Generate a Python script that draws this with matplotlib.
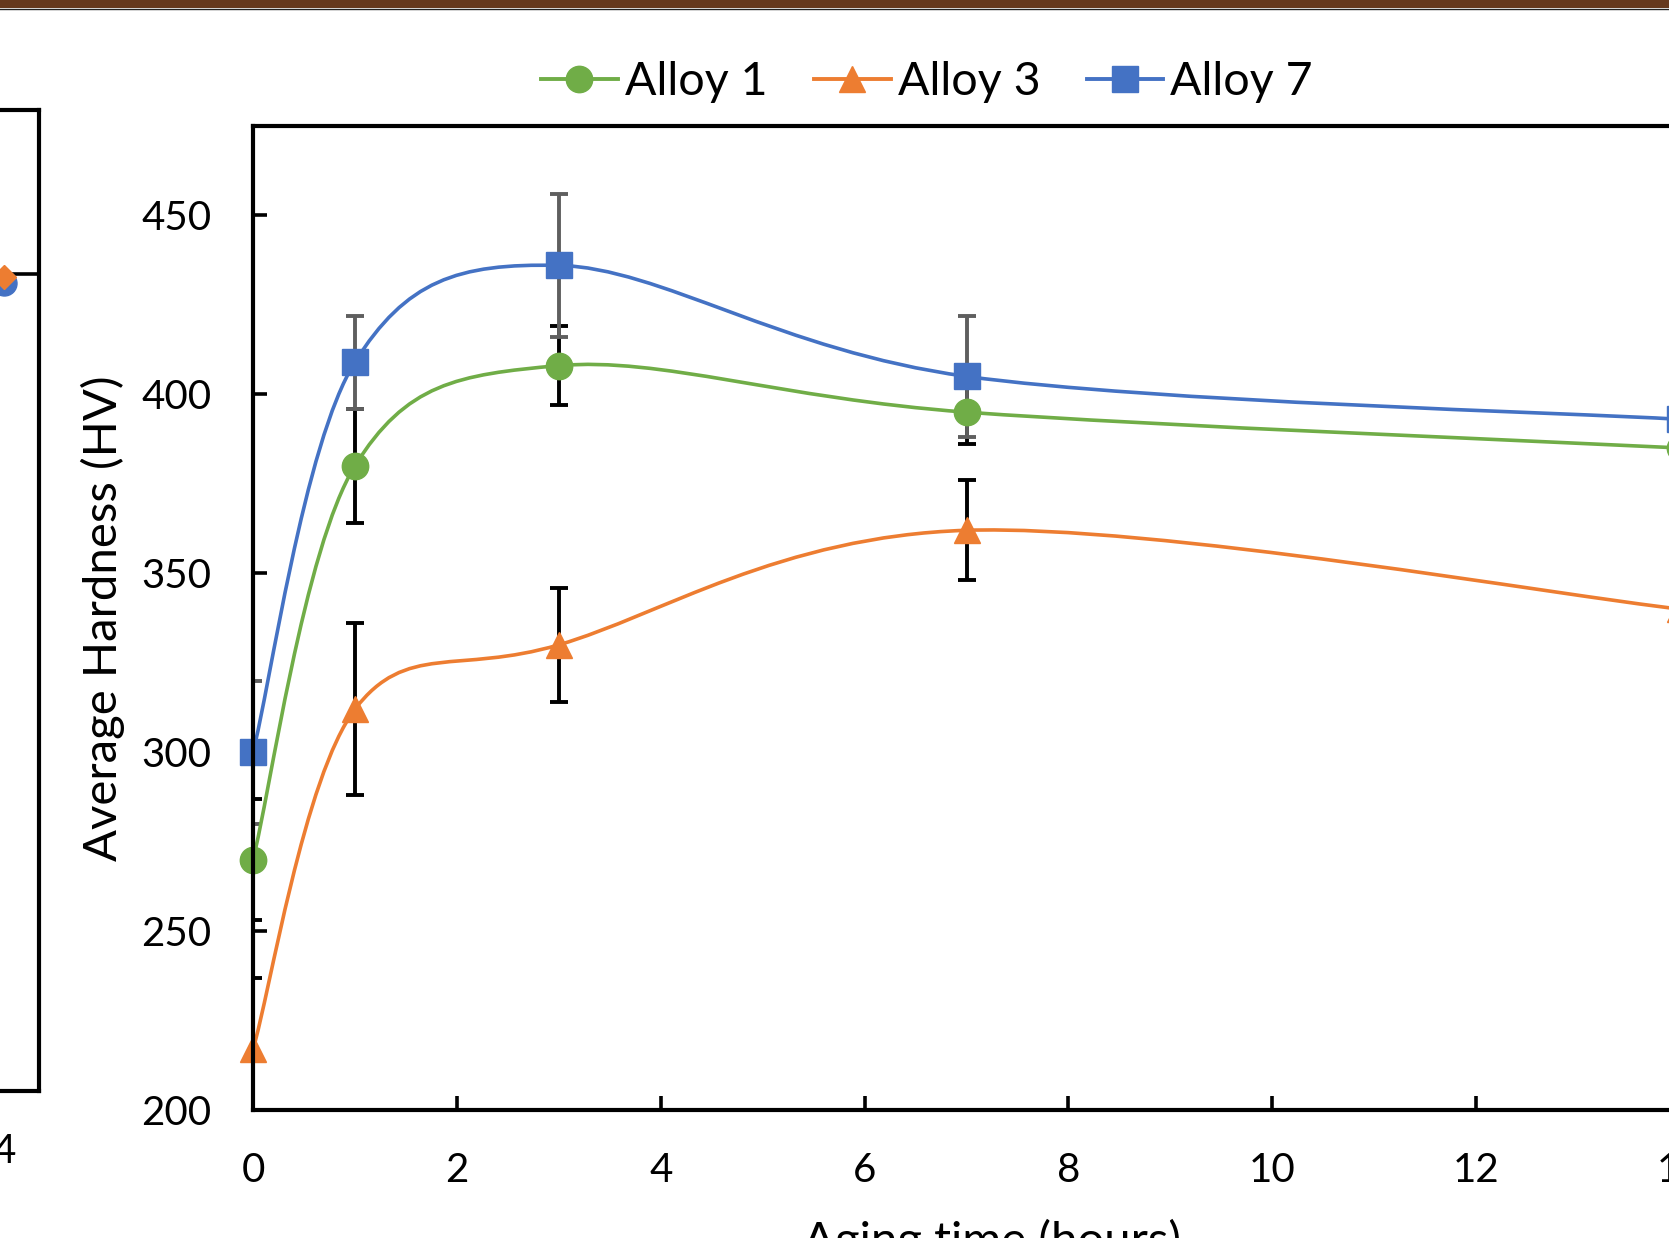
import numpy as np
import matplotlib
matplotlib.use("Agg")
import matplotlib.pyplot as plt
from matplotlib.path import Path
from matplotlib.patches import PathPatch, Rectangle
from matplotlib.lines import Line2D

# aging time (hours)
times = [0, 1, 3, 7, 14]

# average hardness (HV) and error bars
alloy1 = [270, 380, 408, 395, 385]
alloy1_err = [17, 16, 11, 9, 9]
alloy3 = [217, 312, 330, 362, 340]
alloy3_err = [20, 24, 16, 14, 14]
alloy7 = [300, 409, 436, 405, 393]
alloy7_err = [20, 13, 20, 17, 17]

series_names = ["Alloy 1", "Alloy 3", "Alloy 7"]
colors = ["#70AD47", "#ED7D31", "#4472C4"]
markers = ["o", "^", "s"]
err_colors = ["black", "black", "#5f5f5f"]

yticks = [200, 250, 300, 350, 400, 450]
xticks = [0, 2, 4, 6, 8, 10, 12, 14]

W, H = 1669, 1238
plt.rcParams["font.family"] = ["Lato", "DejaVu Sans"]


def smooth_path(x, y):
    """Excel 风格的平滑曲线 (Catmull-Rom -> Bezier)"""
    pts = np.column_stack([x, y]).astype(float)
    n = len(pts)
    verts = [pts[0]]
    codes = [Path.MOVETO]
    for i in range(n - 1):
        p0 = pts[i - 1] if i > 0 else pts[i]
        p1, p2 = pts[i], pts[i + 1]
        p3 = pts[i + 2] if i + 2 < n else pts[i + 1]
        c1 = p1 + (p2 - p0) / 6
        c2 = p2 - (p3 - p1) / 6
        verts += [c1, c2, p2]
        codes += [Path.CURVE4] * 3
    return Path(verts, codes)


fig = plt.figure(figsize=(W / 100, H / 100), dpi=100)

# top brown bar
fig.patches.append(Rectangle((0, 1 - 8 / H), 1, 8 / H, transform=fig.transFigure,
                             facecolor="#65381D", edgecolor="none", zorder=0))
fig.add_artist(Line2D([0, 1], [1 - 9 / H, 1 - 9 / H], color="#222222", lw=1))

# --- left neighbour panel (mostly cropped) ---
axl = fig.add_axes([-400 / W, (H - 1091) / H, 439 / W, 981 / H])
axl.set_xlim(0, 4.35)
axl.set_ylim(200, 500)
axl.plot([4], [447], marker="o", color="#4472C4", ms=18, clip_on=False, ls="none")
axl.plot([4], [449], marker="D", color="#ED7D31", ms=12, clip_on=False, ls="none")
axl.set_xticks([4])
axl.set_yticks([450])
axl.yaxis.tick_right()
axl.tick_params(axis="y", direction="in", length=20, width=2.6, labelright=False)
axl.tick_params(axis="x", length=0, labelsize=29, pad=30)
for s in axl.spines.values():
    s.set_linewidth(3.0)

# --- main panel ---
ax = fig.add_axes([253 / W, 127.8 / H, 1427 / W, 984.4 / H])
for i, (vals, errs) in enumerate([(alloy1, alloy1_err), (alloy3, alloy3_err), (alloy7, alloy7_err)]):
    ax.errorbar(times, vals, yerr=errs, fmt="none", ecolor=err_colors[i],
                elinewidth=2.8, capsize=6.5, capthick=2.8, zorder=2)

for i, vals in enumerate([alloy1, alloy3, alloy7]):
    ax.add_patch(PathPatch(smooth_path(times, vals), facecolor="none",
                           edgecolor=colors[i], lw=2.6, zorder=3))
    ax.plot(times, vals, ls="none", marker=markers[i], ms=19, color=colors[i],
            zorder=4, clip_on=False)

ax.set_xlim(0, 14)
ax.set_ylim(200, 475)
ax.set_xticks(xticks)
ax.set_yticks(yticks)
ax.tick_params(direction="in", length=10, width=2.6, labelsize=29, pad=30)
for s in ax.spines.values():
    s.set_linewidth(3.0)
    s.set_zorder(5)

ax.set_ylabel("Average Hardness (HV)", fontsize=34)
ax.yaxis.set_label_coords(-0.105, 0.5)
ax.yaxis.label.set_va("center")
ax.set_xlabel("Aging time (hours)", fontsize=34)
ax.xaxis.set_label_coords(0.518, -0.147)
ax.xaxis.label.set_va("baseline")

handles = [Line2D([], [], color=colors[i], marker=markers[i], ms=19, lw=2.8)
           for i in range(3)]
fig.legend(handles, series_names, loc="center", bbox_to_anchor=(927 / W, (H - 82) / H),
           ncol=3, frameon=False, fontsize=33.5, handlelength=1.65, handletextpad=0.15,
           columnspacing=1.0)

fig.savefig("out.png", dpi=100)
